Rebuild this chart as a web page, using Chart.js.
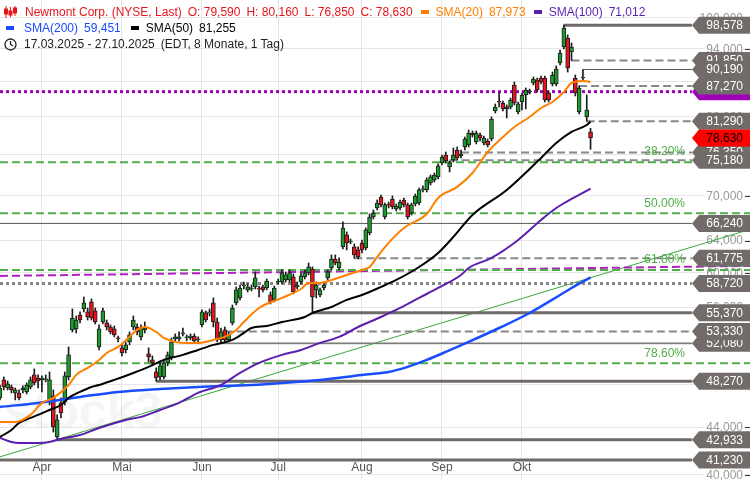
<!DOCTYPE html>
<html>
<head>
<meta charset="utf-8">
<script src="https://cdn.jsdelivr.net/npm/chart.js@4.4.1/dist/chart.umd.min.js"></script>
<style>
html, body { margin: 0; padding: 0; background: #fff; }
#wrap { position: relative; width: 750px; height: 480px; }
#legend { position: absolute; left: 4px; top: 4px; font: 12px "Liberation Sans", Arial, sans-serif; line-height: 16px; white-space: nowrap; }
#legend .row { display: flex; align-items: center; gap: 6px; height: 16px; }
#legend .dash { display: inline-block; width: 8px; height: 4px; margin: 0 1px 0 2px; }
#legend svg { display: block; }
</style>
</head>
<body>
<div id="wrap">
  <canvas id="chart" width="750" height="480"></canvas>
  <div id="legend"></div>
</div>
<script>
// daily candles 17.03.2025 - 27.10.2025, index 0 = first trading day
var openP = [46.69,48.40,47.62,47.72,47.15,47.15,47.44,47.25,47.72,48.89,
  48.59,48.40,48.40,46.31,46.87,43.17,46.22,46.31,48.69,53.50,
  53.61,55.13,55.80,55.47,56.59,55.58,51.71,54.36,54.26,53.82,
  53.61,52.65,51.61,51.40,52.23,53.82,53.82,52.76,53.50,50.99,
  50.38,49.18,48.69,48.69,50.08,50.69,52.55,52.55,53.08,52.65,
  52.65,52.86,52.44,54.04,55.36,55.36,56.48,54.36,52.44,53.50,
  52.44,54.26,56.48,57.05,58.43,57.97,58.08,58.32,58.08,58.32,
  58.20,57.39,56.82,58.90,58.90,59.14,59.14,59.50,58.32,58.90,
  59.50,59.98,60.46,57.97,57.39,58.20,59.38,60.58,61.68,60.58,
  63.19,64.73,63.82,63.19,62.81,63.69,63.06,64.99,67.10,68.32,
  69.85,67.10,68.74,69.57,68.19,68.32,69.43,68.74,67.64,68.87,
  69.01,70.84,70.84,71.84,72.27,72.71,74.78,75.98,74.18,75.23,
  76.75,75.83,77.21,77.52,79.41,77.99,79.09,77.83,78.15,78.46,
  82.99,84.50,84.33,83.33,83.66,87.43,82.83,84.50,85.70,86.21,
  87.78,88.31,88.66,88.66,86.04,87.61,87.61,91.38,94.35,96.07,
  93.41,88.66,82.83,88.66,82.00,79.59];
var highP = [47.91,48.69,48.30,47.91,47.62,47.44,47.82,48.11,48.69,49.48,
  48.89,48.79,48.89,49.18,47.44,45.12,46.69,49.18,51.71,55.80,
  55.02,55.47,57.16,55.91,56.93,55.91,54.04,55.91,54.58,54.04,
  53.93,52.86,51.92,52.23,53.29,55.02,54.15,54.04,54.36,51.61,
  50.79,49.58,50.18,50.38,51.19,52.65,53.08,53.29,53.71,52.97,
  53.08,53.08,52.76,55.69,55.58,55.80,57.05,54.80,53.71,53.82,
  53.29,56.25,58.32,58.55,58.90,58.67,58.55,60.10,58.43,58.55,
  59.26,57.74,58.43,59.26,60.34,60.10,60.34,59.86,58.90,59.98,
  60.34,61.19,60.71,58.90,58.20,58.90,60.34,62.18,62.18,61.81,
  66.44,65.12,64.21,63.57,63.19,64.08,65.64,67.51,68.05,69.43,
  70.13,69.01,69.15,69.99,68.87,69.43,69.71,69.01,69.01,70.27,
  71.12,71.41,72.56,73.00,73.29,74.63,75.98,76.44,75.08,77.06,
  77.21,76.75,78.77,79.89,79.73,79.73,79.41,78.93,78.46,82.00,
  84.17,86.04,84.67,84.00,85.18,87.96,84.50,86.04,86.91,86.73,
  88.84,88.66,89.02,89.02,86.39,89.74,90.83,93.79,98.578,96.65,
  95.11,89.20,87.27,90.19,85.70,80.16];
var lowP = [46.50,47.44,47.44,47.15,46.50,46.50,47.15,47.06,47.53,47.91,
  47.62,47.25,48.21,46.03,43.60,42.933,44.85,46.03,48.40,53.29,
  53.18,54.26,55.47,54.58,54.58,54.15,51.40,54.15,53.50,53.08,
  52.76,52.23,50.79,51.09,51.92,53.50,52.97,52.44,53.18,50.18,
  49.78,48.27,48.40,48.50,49.78,50.38,52.34,52.34,52.86,52.34,
  52.44,52.13,52.23,53.82,54.36,55.02,53.82,52.23,52.08,52.23,
  52.23,54.04,56.25,56.82,58.08,57.74,57.85,58.08,57.16,57.74,
  57.97,56.36,56.59,58.67,58.67,58.90,58.90,57.51,58.08,58.67,
  59.26,59.74,55.37,57.05,57.16,57.97,59.14,60.34,60.95,60.34,
  62.94,62.81,63.57,61.775,61.68,62.43,62.81,64.73,66.83,68.05,
  68.46,66.83,68.32,68.19,67.91,68.05,68.46,66.83,67.37,68.60,
  68.74,70.55,70.55,71.55,71.98,72.42,74.48,74.78,73.44,74.93,
  75.23,75.53,76.75,77.21,78.77,77.68,78.15,77.52,77.21,78.15,
  82.66,83.66,82.99,81.84,83.33,84.00,82.49,83.16,83.33,85.87,
  87.43,86.21,87.61,84.50,84.50,87.26,87.26,91.01,93.97,89.74,
  91.85,85.53,82.49,88.31,81.29,76.85];
var closeP = [47.62,47.72,48.01,47.44,47.44,46.69,47.62,47.91,48.40,48.11,
  48.30,48.59,48.50,48.40,44.04,44.67,45.30,48.79,50.89,54.80,
  54.58,54.58,56.48,54.91,54.80,54.36,53.61,55.58,53.82,53.29,
  52.97,52.55,51.09,51.92,52.97,54.58,53.29,53.71,53.71,50.69,
  50.08,48.59,49.78,50.08,50.89,52.23,52.76,52.76,53.18,52.76,
  52.86,52.34,52.55,55.47,54.58,55.47,54.36,52.44,53.29,52.44,
  52.97,55.91,57.97,58.20,58.55,58.32,58.20,59.38,58.06,57.97,
  59.02,56.59,58.20,59.02,59.98,59.74,59.98,57.74,58.55,59.62,
  59.98,60.71,57.16,58.55,57.97,58.55,60.10,61.68,61.19,61.31,
  65.64,63.69,63.95,62.18,61.93,62.81,65.38,67.10,67.64,69.01,
  68.74,68.74,68.70,68.46,68.60,69.15,68.74,67.10,68.74,69.99,
  70.84,70.98,72.27,72.71,73.00,74.33,75.68,75.08,74.78,75.98,
  75.53,76.13,78.46,79.41,79.09,79.41,78.62,78.62,77.52,81.67,
  83.66,84.45,83.33,83.66,84.84,84.33,84.17,85.70,86.56,86.39,
  88.49,86.56,87.96,84.84,84.84,89.20,90.28,93.22,98.02,90.46,
  94.35,86.04,86.91,88.84,83.16,78.63];

var monthIdx = [11, 32, 53, 73, 95, 116, 137];
var monthLabels = ['Apr', 'Mai', 'Jun', 'Jul', 'Aug', 'Sep', 'Okt'];
var priceTicks = [40, 44, 48, 52, 56, 60, 64, 70, 76, 82, 88, 94, 100];

// moving averages
var sma20Idx = [0,4,8,11,14,18,20,23,26,28,31,34,36,38,41,43,46,49,52,56,59,62,64,68,74,79,81,84,87,91,95,97,99,102,106,112,115,120,124,128,132,135,139,142,145,148,150,153,155];
var sma20Val = [44.49,44.49,45.12,46.22,46.69,47.91,48.89,49.58,50.38,51.09,51.71,52.76,53.50,53.82,53.29,52.65,52.23,52.13,52.13,52.44,52.76,53.50,54.36,55.91,57.05,58.08,58.79,58.79,59.14,59.74,60.34,60.70,61.93,63.70,65.64,67.51,69.71,71.27,73.29,76.44,78.77,80.37,82.00,83.49,84.50,86.21,87.78,88.13,87.973];
var sma50Idx = [0,3,5,8,10,13,16,18,21,24,26,30,35,39,43,48,52,56,61,64,66,70,74,80,82,87,91,95,100,104,110,115,119,124,133,142,146,150,154,155];
var sma50Val = [43.17,43.78,44.40,44.85,45.12,45.57,46.03,46.69,47.25,47.72,47.91,48.40,49.08,49.68,50.38,50.89,51.40,51.92,52.44,53.18,53.71,53.93,54.36,54.91,55.35,56.02,56.82,57.39,58.32,59.14,60.70,62.43,64.47,67.37,70.84,75.53,77.83,79.57,80.69,81.255];
var sma100Idx = [0,3,5,10,13,16,21,26,33,37,42,47,52,58,63,68,74,79,84,89,94,100,105,110,115,121,123,129,136,142,146,150,155];
var sma100Val = [43.08,42.74,42.65,42.65,42.74,43.00,43.34,43.95,44.67,44.94,45.57,46.22,47.16,47.91,49.08,50.08,50.89,51.40,52.13,52.76,53.82,54.91,55.91,57.05,58.20,59.74,60.58,61.81,64.08,66.70,68.32,69.57,71.012];
var sma200Idx = [0,10,21,31,42,52,66,74,84,95,102,107,112,117,123,131,139,147,150,155];
var sma200Val = [45.85,46.22,46.78,47.25,47.53,47.72,47.91,48.10,48.40,48.89,49.18,49.68,50.38,51.19,52.23,53.71,55.35,57.39,58.20,59.451];

// horizontal levels: price and the candle where each one starts
var levelPrices = [98.578, 91.85, 90.19, 87.27, 81.29, 76.35, 75.18, 66.24, 61.775, 58.72, 55.37, 53.33, 52.08, 48.27, 42.933, 41.23];
var levelFrom   = [148, 150, 153, 152, 154, 121, 118, 0, 93, 0, 82, 59, 58, 41, 15, 0];
var fibPrices = [74.9, 67.6, 60.34, 50.05];
var fibNames = ['38.20%', '50.00%', '61.80%', '78.60%'];
var resistPrice = 86.27;
var trendVal = [41.48, 65.45];
var channelVal = [59.62, 60.83];

var FONT = '"Liberation Sans", Arial, sans-serif';
var X_MAX = 196.85, TAG_IDX = 181.6;
var levelKind = ['solid', 'dash', 'thin', 'dash', 'dash', 'dash', 'dash', 'thin', 'dash', 'dot', 'solid', 'dash', 'thin2', 'solid', 'solid', 'solid'];
var STYLE = {
    solid: {borderColor: '#6f6a67', borderWidth: 3},
    thin: {borderColor: '#5a5a5a', borderWidth: 1},
    thin2: {borderColor: '#7a7a7a', borderWidth: 1.5},
    dash: {borderColor: '#888', borderWidth: 2, borderDash: [8, 4]},
    dot: {borderColor: '#888', borderWidth: 3, borderDash: [3, 3]}
};

function fmt(v) {
    return v.toFixed(3).replace('.', ',');
}

function pairs(xs, ys) {
    return xs.map(function (x, i) { return {x: x, y: ys[i]}; });
}

function lineSet(points, opts) {
    return Object.assign({
        type: 'line', data: points, pointRadius: 0, fill: false,
        tension: 0, borderCapStyle: 'butt'
    }, opts);
}

var datasets = [];
datasets.push(lineSet(pairs(sma20Idx, sma20Val), {borderColor: '#ff8000', borderWidth: 2, cubicInterpolationMode: 'monotone', order: 0}));
datasets.push(lineSet(pairs(sma50Idx, sma50Val), {borderColor: '#000', borderWidth: 2, cubicInterpolationMode: 'monotone', order: 1}));
datasets.push(lineSet(pairs(sma100Idx, sma100Val), {borderColor: '#5b1fb0', borderWidth: 2, cubicInterpolationMode: 'monotone', order: 2}));
datasets.push(lineSet(pairs(sma200Idx, sma200Val), {borderColor: '#1a4dff', borderWidth: 2.5, cubicInterpolationMode: 'monotone', order: 3}));

var bodyColors = openP.map(function (o, i) { return closeP[i] >= o ? '#1d9a2c' : '#e8141c'; });
datasets.push({
    type: 'bar', order: 4, grouped: false, barThickness: 4, minBarLength: 1,
    data: openP.map(function (o, i) { return {x: i, y: [o, closeP[i]]}; }),
    backgroundColor: bodyColors, borderColor: '#1b1b1b', borderWidth: 1, borderSkipped: false
});
datasets.push({
    type: 'bar', order: 5, grouped: false, barThickness: 1,
    data: lowP.map(function (l, i) { return {x: i, y: [l, highP[i]]}; }),
    backgroundColor: '#1b1b1b', borderWidth: 0
});

levelPrices.forEach(function (p, i) {
    datasets.push(lineSet([{x: levelFrom[i], y: p}, {x: TAG_IDX, y: p}], Object.assign({order: 6}, STYLE[levelKind[i]])));
});
datasets.push(lineSet([{x: 0, y: resistPrice}, {x: TAG_IDX, y: resistPrice}], {borderColor: '#a000b8', borderWidth: 3, borderDash: [3, 3], order: 6}));
fibPrices.forEach(function (p) {
    datasets.push(lineSet([{x: 0, y: p}, {x: X_MAX, y: p}], {borderColor: '#4fae4a', borderWidth: 2, borderDash: [8, 4], order: 7}));
});
datasets.push(lineSet([{x: 0, y: channelVal[0]}, {x: X_MAX, y: channelVal[1]}], {borderColor: '#b020c0', borderWidth: 2, borderDash: [8, 4], order: 7}));
datasets.push(lineSet([{x: 0, y: trendVal[0]}, {x: X_MAX, y: trendVal[1]}], {borderColor: '#3aa83a', borderWidth: 1, order: 8}));

// tags on the right edge, in drawing order
var tags = [
    {v: 98.578}, {v: 91.85}, {v: 90.19}, {v: resistPrice, fill: '#a000b8', hide: true}, {v: 87.27},
    {v: 81.29}, {v: 76.35}, {v: 78.63, fill: '#ff0000', color: '#000'}, {v: 75.18},
    {v: 66.24}, {v: 61.775}, {v: 58.72}, {v: 55.37}, {v: 52.08}, {v: 53.33},
    {v: 48.27}, {v: 42.933}, {v: 41.23}
];

function drawTag(ctx, y, tag) {
    var h = 17;
    ctx.fillStyle = tag.fill || '#716c69';
    ctx.beginPath();
    ctx.moveTo(692, y);
    ctx.lineTo(699, y - h / 2);
    ctx.lineTo(750, y - h / 2);
    ctx.lineTo(750, y + h / 2);
    ctx.lineTo(699, y + h / 2);
    ctx.closePath();
    ctx.fill();
    if (!tag.hide) {
        ctx.fillStyle = tag.color || '#fff';
        ctx.fillText(fmt(tag.v), 743, y + 0.5);
    }
}

var overlay = {
    id: 'overlay',
    beforeDatasetsDraw: function (chart) {
        var ctx = chart.ctx, ys = chart.scales.y;
        ctx.save();
        ctx.font = 'bold 50px ' + FONT;
        ctx.fillStyle = 'rgba(200,200,200,0.18)';
        ctx.textBaseline = 'alphabetic';
        ctx.fillText('stock3', 4, 428);
        // price axis labels, under the lines
        ctx.font = '12px ' + FONT;
        ctx.textAlign = 'right';
        ctx.textBaseline = 'middle';
        priceTicks.forEach(function (t) {
            var y = ys.getPixelForValue(t), label = fmt(t), w = ctx.measureText(label).width;
            ctx.fillStyle = '#fff';
            ctx.fillRect(742 - w, y - 7, w + 3, 14);
            ctx.fillStyle = '#999';
            ctx.fillText(label, 743, y + 0.5);
        });
        ctx.restore();
    },
    afterDatasetsDraw: function (chart) {
        var ctx = chart.ctx, ys = chart.scales.y, xs = chart.scales.x;
        ctx.save();
        ctx.font = '12px ' + FONT;
        ctx.textBaseline = 'middle';
        ctx.textAlign = 'center';
        ctx.fillStyle = '#555';
        monthIdx.forEach(function (m, i) {
            ctx.fillText(monthLabels[i], xs.getPixelForValue(m), 468);
        });
        ctx.textAlign = 'right';
        ctx.fillStyle = '#4fae4a';
        fibPrices.forEach(function (p, i) {
            ctx.fillText(fibNames[i], 685, ys.getPixelForValue(p) - 10);
        });
        ctx.strokeStyle = '#333';
        ctx.lineWidth = 1;
        priceTicks.forEach(function (t) {
            var y = Math.round(ys.getPixelForValue(t)) + 0.5;
            ctx.beginPath();
            ctx.moveTo(745, y);
            ctx.lineTo(750, y);
            ctx.stroke();
        });
        tags.forEach(function (t) {
            drawTag(ctx, ys.getPixelForValue(t.v), t);
        });
        ctx.restore();
    }
};

new Chart(document.getElementById('chart'), {
    type: 'bar',
    data: {datasets: datasets},
    plugins: [overlay],
    options: {
        responsive: false,
        animation: false,
        events: [],
        layout: {padding: 0},
        plugins: {legend: {display: false}, tooltip: {enabled: false}},
        scales: {
            x: {
                type: 'linear', min: 0, max: X_MAX, offset: false,
                afterBuildTicks: function (s) { s.ticks = monthIdx.map(function (v) { return {value: v}; }); },
                afterFit: function (s) { s.height = 0; },
                grid: {color: '#e6e6e6', drawTicks: false, offset: false},
                border: {display: false},
                ticks: {display: false}
            },
            y: {
                type: 'logarithmic', position: 'right', min: 39.60, max: 103.675,
                afterBuildTicks: function (s) { s.ticks = priceTicks.map(function (v) { return {value: v}; }); },
                afterFit: function (s) { s.width = 0; },
                grid: {color: '#e6e6e6', drawTicks: false},
                border: {display: false},
                ticks: {display: false}
            }
        }
    }
});

// legend text built from the last values
var n = closeP.length - 1;
function last(a) { return fmt(a[a.length - 1]); }
var candleIcon = '<svg width="13" height="12" viewBox="0 0 13 12"><g fill="#e8141c" stroke="#e8141c"><line x1="2" y1="0" x2="2" y2="12"/><rect x="0.5" y="3" width="3" height="5"/><line x1="6.5" y1="1" x2="6.5" y2="11"/><rect x="5" y="5" width="3" height="4"/><line x1="11" y1="0" x2="11" y2="10"/><rect x="9.5" y="2" width="3" height="5"/></g></svg>';
var clockIcon = '<svg width="13" height="13" viewBox="0 0 13 13"><circle cx="6.5" cy="6.5" r="5.5" fill="none" stroke="#222" stroke-width="1.3"/><path d="M6.5 3 V6.5 L9 8" fill="none" stroke="#222" stroke-width="1.3"/></svg>';
document.getElementById('legend').innerHTML =
    '<div class="row" style="color:#e8141c">' + candleIcon +
    '<span style="margin-left:2px">Newmont Corp. (NYSE, Last)</span>' +
    '<span>O: ' + fmt(openP[n]) + '</span><span>H: ' + fmt(highP[n]) + '</span>' +
    '<span>L: ' + fmt(lowP[n]) + '</span><span>C: ' + fmt(closeP[n]) + '</span>' +
    '<i class="dash" style="background:#ff8000"></i><span style="color:#ff8000">SMA(20)</span><span style="color:#ff8000">' + last(sma20Val) + '</span>' +
    '<i class="dash" style="background:#5b1fb0"></i><span style="color:#5b1fb0">SMA(100)</span><span style="color:#5b1fb0">' + last(sma100Val) + '</span></div>' +
    '<div class="row"><i class="dash" style="background:#1a4dff"></i><span style="color:#1a4dff;margin-left:3px">SMA(200)</span><span style="color:#1a4dff">' + last(sma200Val) + '</span>' +
    '<i class="dash" style="background:#000;margin-left:4px"></i><span>SMA(50)</span><span>' + last(sma50Val) + '</span></div>' +
    '<div class="row" style="color:#222">' + clockIcon + '<span style="margin-left:1px">17.03.2025 - 27.10.2025</span><span>(EDT, 8 Monate, 1 Tag)</span></div>';
</script>
</body>
</html>
